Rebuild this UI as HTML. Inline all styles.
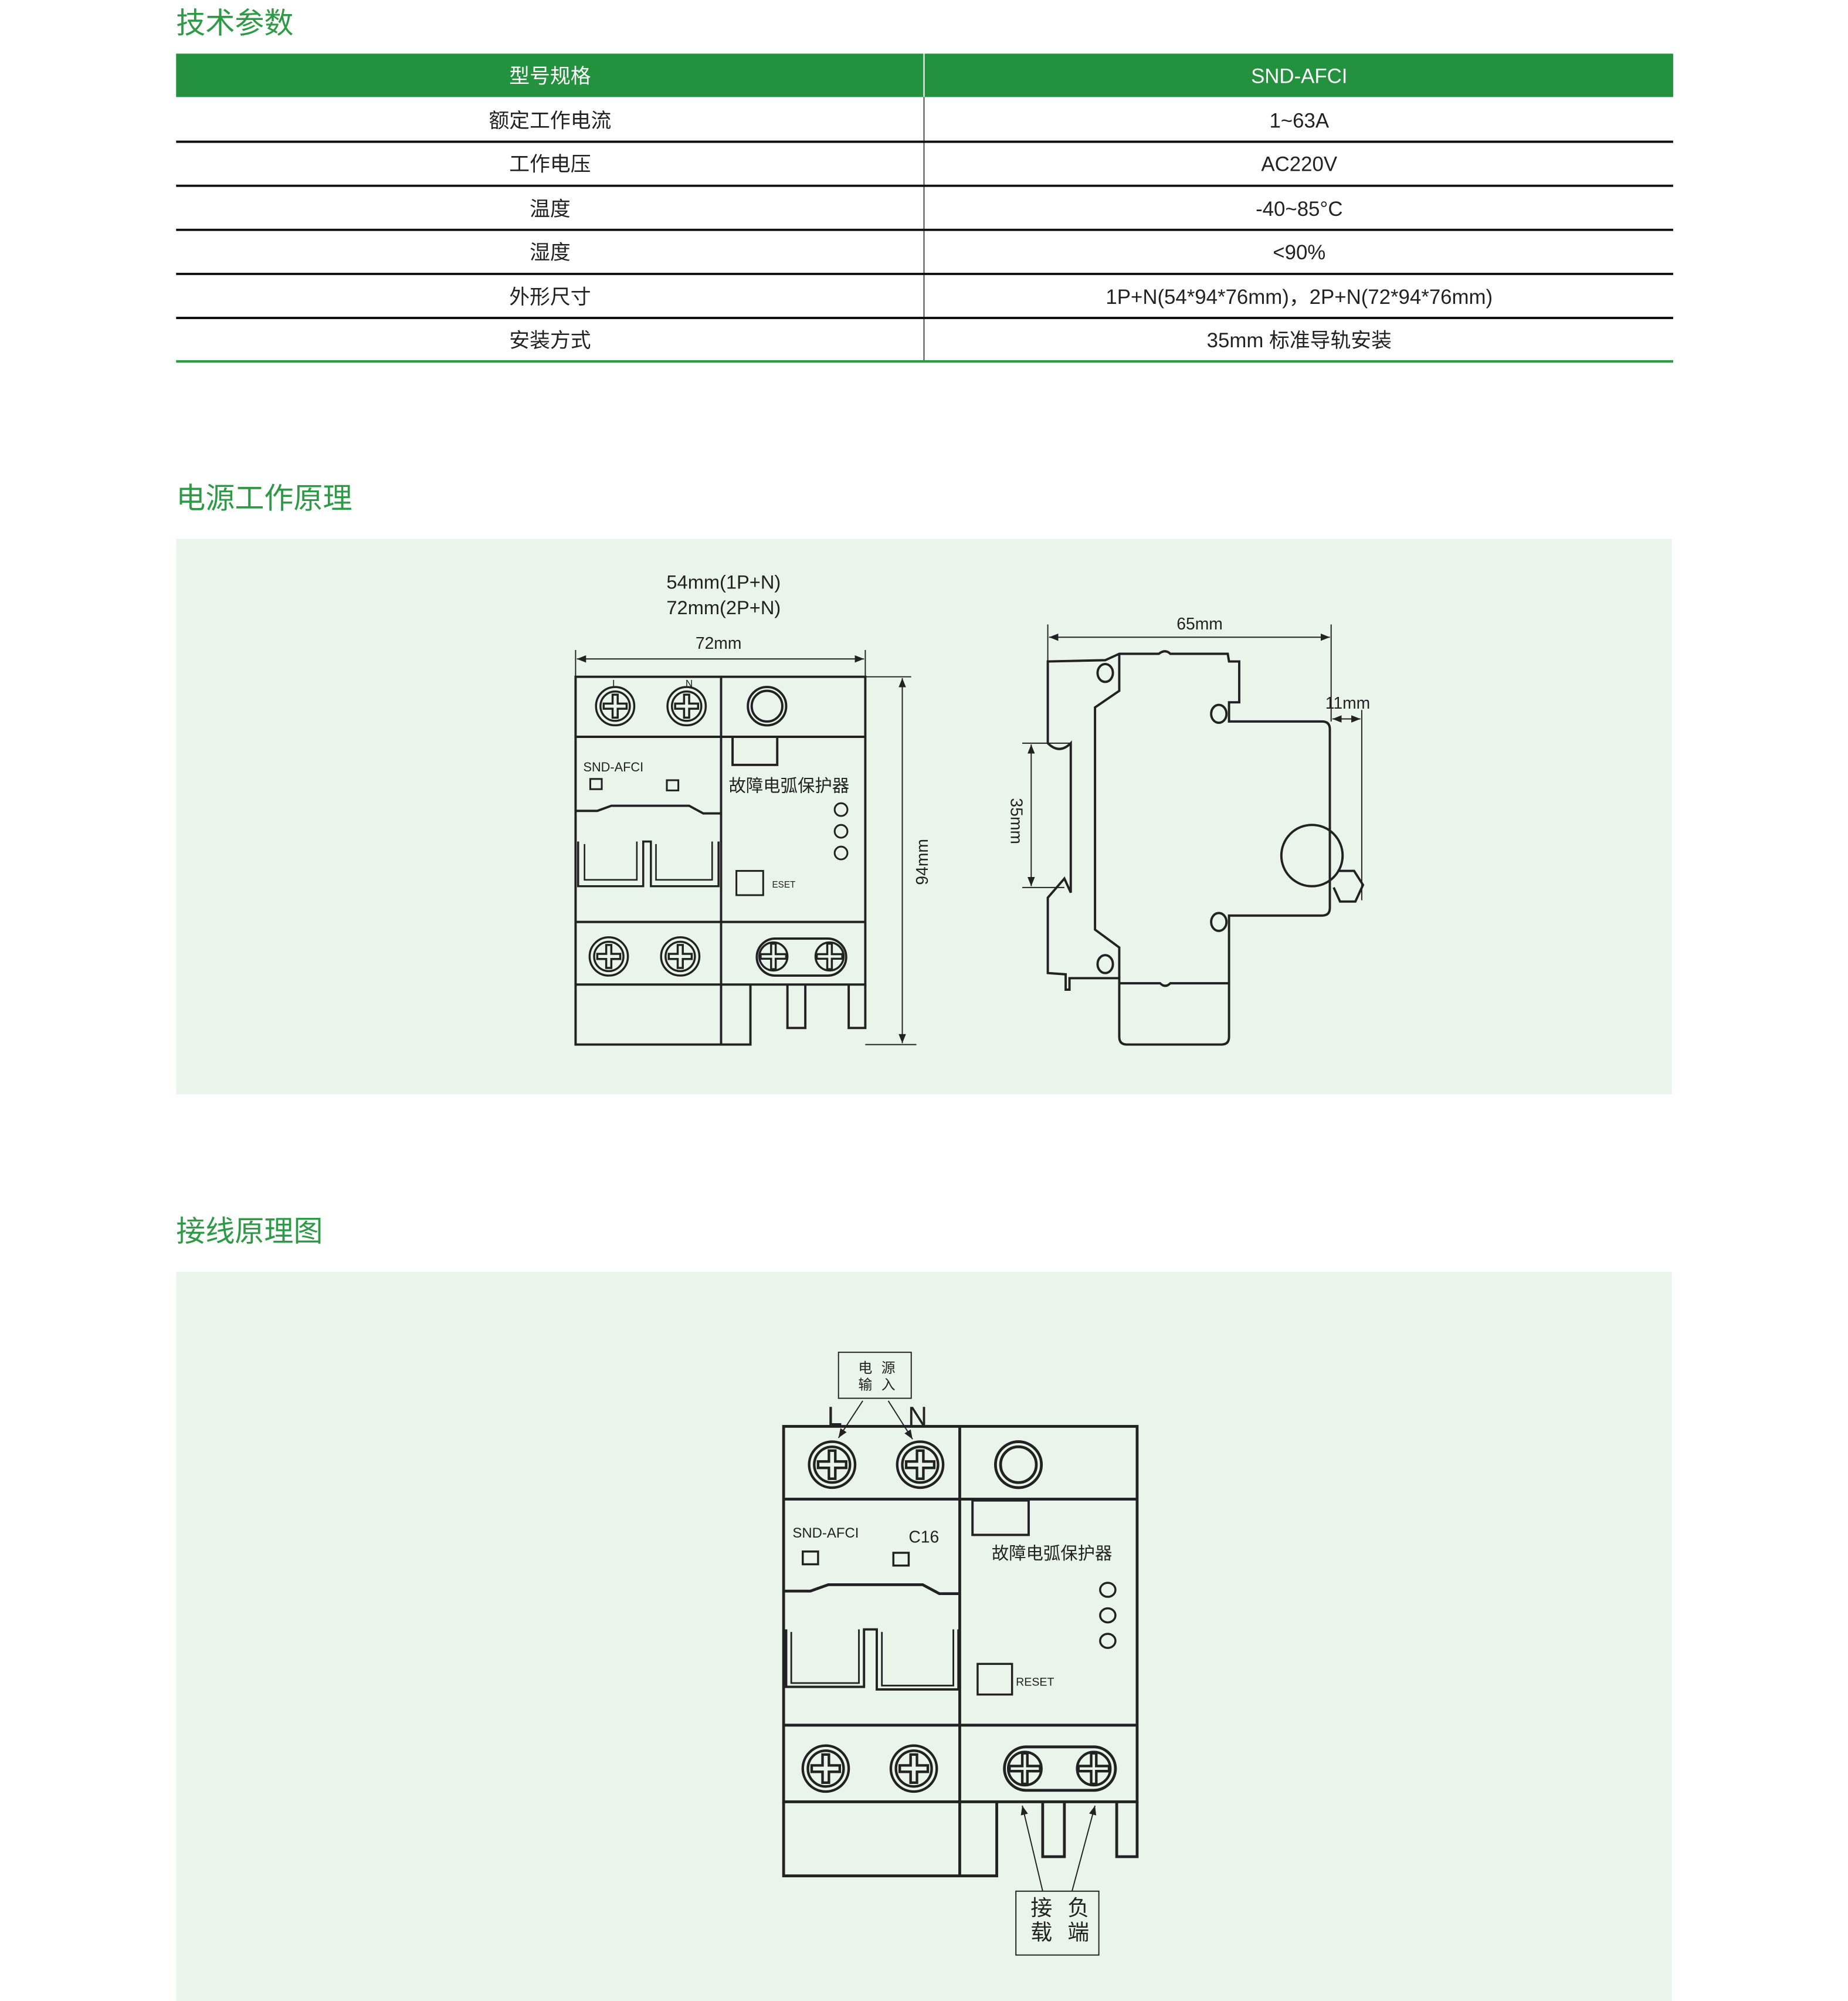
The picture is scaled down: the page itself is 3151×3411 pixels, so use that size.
<!DOCTYPE html>
<html><head><meta charset="utf-8"><style>
html,body{margin:0;padding:0;background:#fff}
svg{display:block}
text{font-family:"Liberation Sans","Noto Sans CJK SC",sans-serif}
</style></head><body>
<svg width="3151" height="3411" viewBox="0 0 1448 1567" preserveAspectRatio="none" xmlns="http://www.w3.org/2000/svg">
<defs>
<g id="s15" fill="none" stroke="#222" stroke-width="1.6"><circle r="15"/><circle r="11.5"/><path d="M-2,-9H2V-2H9V2H2V9H-2V2H-9V-2H-2Z"/></g>
<g id="s18" fill="none" stroke="#222" stroke-width="2"><circle r="18"/><circle r="14"/><path d="M-2.5,-11H2.5V-2.5H11V2.5H2.5V11H-2.5V2.5H-11V-2.5H-2.5Z"/></g>
<g id="s13" fill="none" stroke="#222" stroke-width="2"><circle r="13"/><path d="M-2,-12H2V-2H12V2H2V12H-2V2H-12V-2H-2Z"/></g>
<g id="s11" fill="none" stroke="#222" stroke-width="1.6"><circle r="11"/><path d="M-1.8,-10H1.8V-1.8H10V1.8H1.8V10H-1.8V1.8H-10V-1.8H-1.8Z"/></g>
<marker id="ar" viewBox="0 0 10 10" refX="10" refY="5" markerWidth="8" markerHeight="8" orient="auto-start-reverse"><path d="M0,1L10,5L0,9Z" fill="#222"/></marker>
</defs>

<!-- Section 1 -->
<text x="138" y="26" font-size="23" fill="#2e9a45">技术参数</text>
<rect x="138" y="42" width="1173" height="34" fill="#23913d"/>
<line x1="724" y1="42" x2="724" y2="76" stroke="#fff" stroke-width="1"/>
<g font-size="16" text-anchor="middle">
<text x="431" y="65" fill="#fff">型号规格</text><text x="1018" y="65" fill="#fff">SND-AFCI</text>
<g fill="#222">
<text x="431" y="100">额定工作电流</text><text x="1018" y="100">1~63A</text>
<text x="431" y="134">工作电压</text><text x="1018" y="134">AC220V</text>
<text x="431" y="169">温度</text><text x="1018" y="169">-40~85°C</text>
<text x="431" y="203">湿度</text><text x="1018" y="203">&lt;90%</text>
<text x="431" y="238">外形尺寸</text><text x="1018" y="238">1P+N(54*94*76mm)，2P+N(72*94*76mm)</text>
<text x="431" y="272">安装方式</text><text x="1018" y="272">35mm 标准导轨安装</text>
</g></g>
<line x1="724" y1="76" x2="724" y2="283" stroke="#333" stroke-width="0.8"/>
<g stroke="#111" stroke-width="1.8">
<line x1="138" y1="111" x2="1311" y2="111"/><line x1="138" y1="145.5" x2="1311" y2="145.5"/>
<line x1="138" y1="180" x2="1311" y2="180"/><line x1="138" y1="214.5" x2="1311" y2="214.5"/>
<line x1="138" y1="249" x2="1311" y2="249"/></g>
<line x1="138" y1="283" x2="1311" y2="283" stroke="#2e9a45" stroke-width="2"/>

<!-- Section 2 -->
<text x="138" y="398" font-size="23" fill="#2e9a45">电源工作原理</text>
<rect x="138" y="422" width="1172" height="435" fill="#e9f4eb"/>

<g font-size="15" fill="#222" text-anchor="middle"><text x="567" y="461">54mm(1P+N)</text><text x="567" y="481">72mm(2P+N)</text></g>
<text x="563" y="508" font-size="13" fill="#222" text-anchor="middle">72mm</text>
<g stroke="#222" stroke-width="0.9" fill="none">
<line x1="451" y1="509" x2="451" y2="530"/><line x1="678" y1="509" x2="678" y2="530"/>
<line x1="452" y1="516" x2="677" y2="516" marker-start="url(#ar)" marker-end="url(#ar)"/>
<line x1="678" y1="530" x2="714" y2="530"/><line x1="678" y1="818" x2="718" y2="818"/>
<line x1="707" y1="531" x2="707" y2="817" marker-start="url(#ar)" marker-end="url(#ar)"/>
</g>
<text transform="translate(727,675) rotate(-90)" font-size="13" fill="#222" text-anchor="middle">94mm</text>

<g stroke="#222" stroke-width="1.8" fill="none">
<rect x="451" y="530" width="227" height="241"/>
<line x1="565" y1="530" x2="565" y2="818"/>
<line x1="451" y1="577" x2="678" y2="577"/><line x1="451" y1="722" x2="678" y2="722"/>
<path d="M451,771V818H588V771"/>
<path d="M617,771V805H631V771M665,771V805H678V771"/>
<rect x="574" y="577" width="35" height="22"/>
<circle cx="601" cy="553" r="15"/><circle cx="601" cy="553" r="12"/>
<path d="M451,635H468L479,631H540L551,637H565"/>
<path d="M453,659V694H504V659H510V694H563V659" stroke-width="1.6"/>
<path d="M458,661V689H499V659M514,661V689H558V659" stroke-width="1.2"/>
<rect x="462.5" y="610" width="9" height="8" stroke-width="1.4"/><rect x="522.5" y="611" width="9" height="8" stroke-width="1.4"/>
<circle cx="659" cy="634" r="5" stroke-width="1.4"/><circle cx="659" cy="651" r="5" stroke-width="1.4"/><circle cx="659" cy="668" r="5" stroke-width="1.4"/>
<rect x="577" y="682" width="21" height="19" stroke-width="1.4"/>
<rect x="593" y="735" width="70" height="29" rx="14.5"/>
</g>
<use href="#s15" x="482" y="553"/><use href="#s15" x="538" y="553"/>
<use href="#s15" x="477" y="749"/><use href="#s15" x="533" y="749"/>
<use href="#s11" x="606" y="749"/><use href="#s11" x="650" y="749"/>
<g fill="#222">
<text x="482" y="538" font-size="8" text-anchor="middle">L</text><text x="540" y="538" font-size="8" text-anchor="middle">N</text>
<text x="457" y="604" font-size="10">SND-AFCI</text>
<text x="571" y="620" font-size="13.5">故障电弧保护器</text>
<text x="605" y="695" font-size="7">ESET</text>
</g>

<!-- side view -->
<text x="940" y="493" font-size="13" fill="#222" text-anchor="middle">65mm</text>
<text x="1056" y="555" font-size="13" fill="#222" text-anchor="middle">11mm</text>
<text transform="translate(792,643) rotate(90)" font-size="13" fill="#222" text-anchor="middle">35mm</text>
<g stroke="#222" stroke-width="0.9" fill="none">
<line x1="821" y1="489" x2="821" y2="518"/><line x1="1043" y1="489" x2="1043" y2="565"/>
<line x1="822" y1="499" x2="1042" y2="499" marker-start="url(#ar)" marker-end="url(#ar)"/>
<line x1="1067" y1="556" x2="1067" y2="705"/>
<line x1="1044" y1="563" x2="1066" y2="563" marker-start="url(#ar)" marker-end="url(#ar)"/>
<line x1="801" y1="582" x2="839" y2="582"/><line x1="801" y1="695" x2="834" y2="695"/>
<line x1="808" y1="583" x2="808" y2="694" marker-start="url(#ar)" marker-end="url(#ar)"/>
</g>
<g stroke="#222" stroke-width="1.8" fill="none">
<path d="M821,518L866,517L877,512H908Q913,508 917,512H962L963,518H971V550H963V565H1036Q1042,565 1042,571V711Q1042,717 1036,717H963V770H917Q913,774 909,770H877V766H838V775H835V763L821,762V703L834,688L839,699V582Q830,591 821,582Z"/>
<path d="M877,770V812Q877,818 883,818H957Q963,818 963,812V770"/>
<path d="M877,512V541L858,554V728L877,742V766"/>
<ellipse cx="866" cy="527" rx="6" ry="7"/><ellipse cx="955" cy="559" rx="6" ry="7"/>
<ellipse cx="955" cy="722" rx="6" ry="7"/><ellipse cx="866" cy="755" rx="6" ry="7"/>
<circle cx="1028" cy="670" r="24"/>
<path d="M1048,682H1061L1068,693L1062,706H1050L1045,695"/>
</g>

<!-- Section 3 -->
<text x="138" y="972" font-size="23" fill="#2e9a45">接线原理图</text>
<rect x="138" y="996" width="1172" height="571" fill="#e9f4eb"/>

<g stroke="#222" fill="none">
<rect x="657" y="1059" width="57" height="36" stroke-width="0.9"/>
<rect x="796" y="1481" width="65" height="50" stroke-width="0.9"/>
<line x1="676" y1="1097" x2="657" y2="1126" stroke-width="0.9" marker-end="url(#ar)"/>
<line x1="696" y1="1097" x2="715" y2="1127" stroke-width="0.9" marker-end="url(#ar)"/>
<line x1="817" y1="1481" x2="801" y2="1414" stroke-width="0.9" marker-end="url(#ar)"/>
<line x1="840" y1="1481" x2="858" y2="1414" stroke-width="0.9" marker-end="url(#ar)"/>
<g stroke-width="2.2">
<rect x="614" y="1117" width="277" height="294"/>
<line x1="752" y1="1117" x2="752" y2="1469"/>
<line x1="614" y1="1174" x2="891" y2="1174"/><line x1="614" y1="1351" x2="891" y2="1351"/>
<path d="M614,1411V1469H781V1411"/>
<path d="M817,1411V1454H834V1411M875,1411V1454H891V1411"/>
<rect x="762" y="1175" width="44" height="27" stroke-width="1.8"/>
<circle cx="798" cy="1147" r="18"/><circle cx="798" cy="1147" r="14"/>
<path d="M615,1246H635L649,1241H723L736,1248H752"/>
<path d="M616,1276V1321H677V1276H687V1323H751V1276" stroke-width="1.8"/>
<path d="M620,1278V1318H673V1276M691,1278V1320H747V1276" stroke-width="1.3"/>
<rect x="629" y="1215" width="12" height="10" stroke-width="1.6"/><rect x="700" y="1216" width="12" height="10" stroke-width="1.6"/>
<ellipse cx="868" cy="1245" rx="6" ry="5.5" stroke-width="1.6"/><ellipse cx="868" cy="1265" rx="6" ry="5.5" stroke-width="1.6"/><ellipse cx="868" cy="1285" rx="6" ry="5.5" stroke-width="1.6"/>
<rect x="766" y="1303" width="27" height="24" stroke-width="1.6"/>
<rect x="787" y="1368" width="87" height="34" rx="17"/>
</g></g>
<use href="#s18" x="652" y="1147"/><use href="#s18" x="721" y="1147"/>
<use href="#s18" x="647" y="1385"/><use href="#s18" x="716" y="1385"/>
<use href="#s13" x="803" y="1385"/><use href="#s13" x="857" y="1385"/>
<g fill="#222">
<text x="678" y="1075" font-size="11" text-anchor="middle">电</text><text x="696" y="1075" font-size="11" text-anchor="middle">源</text>
<text x="678" y="1088" font-size="11" text-anchor="middle">输</text><text x="696" y="1088" font-size="11" text-anchor="middle">入</text>
<text x="654" y="1116" font-size="21" text-anchor="middle">L</text><text x="719" y="1116" font-size="21" text-anchor="middle">N</text>
<text x="621" y="1204" font-size="11">SND-AFCI</text>
<text x="712" y="1208" font-size="13">C16</text>
<text x="777" y="1221" font-size="13.5">故障电弧保护器</text>
<text x="796" y="1320" font-size="9">RESET</text>
<text x="816" y="1500" font-size="17" text-anchor="middle">接</text><text x="845" y="1500" font-size="17" text-anchor="middle">负</text>
<text x="816" y="1519" font-size="17" text-anchor="middle">载</text><text x="845" y="1519" font-size="17" text-anchor="middle">端</text>
</g>
</svg>
</body></html>
